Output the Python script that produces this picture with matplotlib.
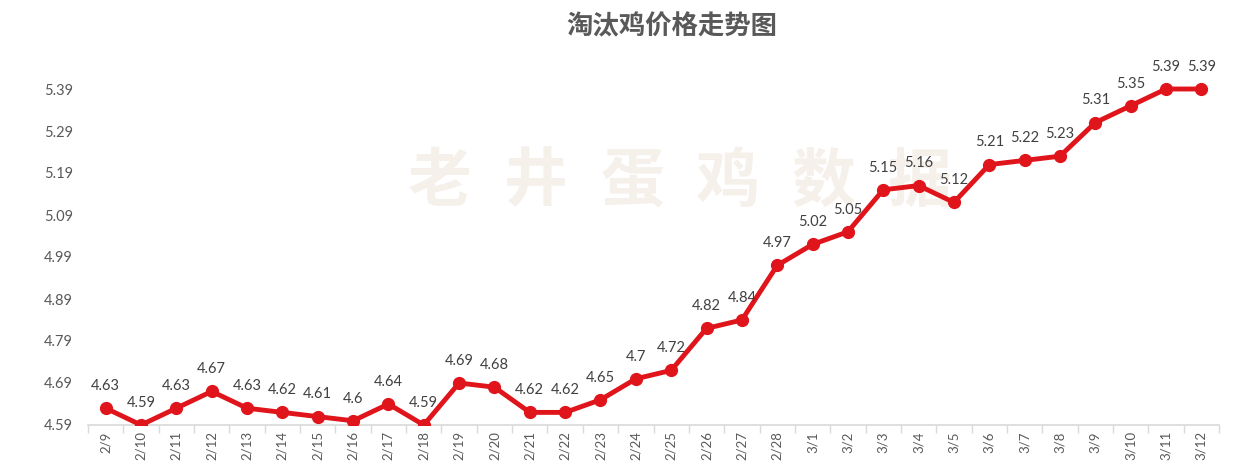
import matplotlib
matplotlib.use("Agg")
import matplotlib.pyplot as plt
from matplotlib.ticker import FixedLocator, NullFormatter

dates = ["2/9", "2/10", "2/11", "2/12", "2/13", "2/14", "2/15", "2/16", "2/17", "2/18",
         "2/19", "2/20", "2/21", "2/22", "2/23", "2/24", "2/25", "2/26", "2/27", "2/28",
         "3/1", "3/2", "3/3", "3/4", "3/5", "3/6", "3/7", "3/8", "3/9", "3/10", "3/11", "3/12"]
prices = [4.63, 4.59, 4.63, 4.67, 4.63, 4.62, 4.61, 4.6, 4.64, 4.59,
          4.69, 4.68, 4.62, 4.62, 4.65, 4.7, 4.72, 4.82, 4.84, 4.97,
          5.02, 5.05, 5.15, 5.16, 5.12, 5.21, 5.22, 5.23, 5.31, 5.35, 5.39, 5.39]
yticks = [4.59, 4.69, 4.79, 4.89, 4.99, 5.09, 5.19, 5.29, 5.39]
title = "淘汰鸡价格走势图"
watermark = "老井蛋鸡数据"

plt.rcParams['font.family'] = ['Lato', 'Noto Sans CJK SC', 'DejaVu Sans']

fig = plt.figure(figsize=(12.42, 4.63), dpi=100)
ax = fig.add_axes([88/1242, 1-425/463, (1219-88)/1242, (425-47)/463])

x = list(range(len(prices)))
red = "#E0141B"
ax.plot(x, prices, color=red, lw=3.5, marker='o', ms=8.5, zorder=3, solid_joinstyle='round')

for xi, v in zip(x, prices):
    ax.annotate(f"{v:g}", (xi, v), xytext=(0, 11), textcoords='offset points',
                ha='center', va='bottom', fontsize=10.5, color='#404040', zorder=4)

ax.set_xlim(-0.5, len(prices) - 0.5)
ax.set_ylim(4.59, 5.49)
ax.set_yticks(yticks)
ax.set_yticklabels([f"{t:.2f}" for t in yticks])
ax.tick_params(axis='y', length=0, pad=11, labelsize=10.5, labelcolor='#595959')

ax.set_xticks(x)
ax.set_xticklabels(dates, rotation=90, ha='center', va='top')
ax.tick_params(axis='x', which='major', length=0, pad=4.5, labelsize=9.5, labelcolor='#595959')
ax.xaxis.set_minor_locator(FixedLocator([i - 0.5 for i in range(len(prices) + 1)]))
ax.xaxis.set_minor_formatter(NullFormatter())
ax.tick_params(axis='x', which='minor', length=6, width=1, color='#D9D9D9', direction='out')

for s in ['top', 'right', 'left']:
    ax.spines[s].set_visible(False)
ax.spines['bottom'].set_color('#D9D9D9')
ax.spines['bottom'].set_linewidth(1.2)

# watermark
for i, ch in enumerate(watermark):
    fig.text((440 + i * 96) / 1242, 1 - 182 / 463, ch, fontsize=46, fontweight='bold',
             family=['Noto Sans CJK SC'], color='#F6F0EA', ha='center', va='center',
             zorder=0)
ax.set_zorder(1)
ax.patch.set_alpha(0)

fig.text(672/1242, 1 - 27/463, title, fontsize=19, fontweight='bold', color='#595959',
         family=['Noto Sans CJK SC'], ha='center', va='center')

fig.savefig("out.png", dpi=100)
